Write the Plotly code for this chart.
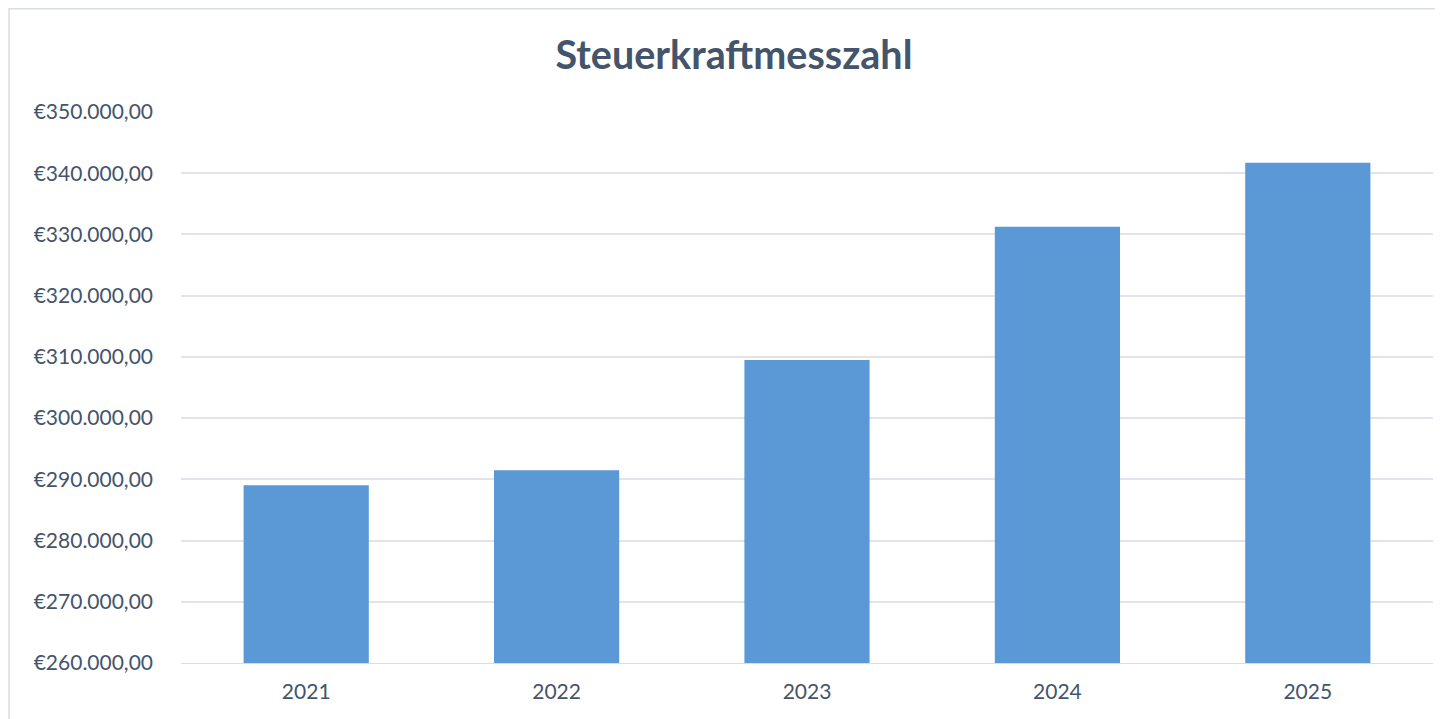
import plotly.graph_objects as go

years = ["2021", "2022", "2023", "2024", "2025"]
values = [289050, 291500, 309500, 331250, 341700]
tick_vals = [260000, 270000, 280000, 290000, 300000, 310000, 320000, 330000, 340000, 350000]


def euro(v):
    s = f"{v:,.2f}"  # 350,000.00
    s = s.replace(",", "X").replace(".", ",").replace("X", ".")
    return "€" + s


tick_text = [euro(v) for v in tick_vals]

TEXT = "#44546A"
FONT = "Lato, Noto Sans, sans-serif"

# page has an 8px body margin; compensate so the plot area lands where the reference has it
W, H = 1435, 711
L, T, R, B = 173, 104, 10, 56
pw = W - L - R
ph = H - T - B

fig = go.Figure()
fig.add_trace(go.Bar(
    x=years, y=values,
    marker=dict(color="#5A99D6", line=dict(width=0)),
    hoverinfo="x+y",
))

fig.update_layout(
    width=W, height=H,
    margin=dict(l=L, r=R, t=T, b=B),
    paper_bgcolor="white", plot_bgcolor="white",
    bargap=0.5,
    showlegend=False,
    font=dict(family=FONT, color=TEXT, size=21),
    title=dict(text="<b>Steuerkraftmesszahl</b>", x=(734 - 8) / W, xanchor="center",
               y=1 - (55 - 8) / H, yanchor="middle", yref="container",
               font=dict(size=39.5, color=TEXT, family=FONT)),
    xaxis=dict(showgrid=False, showline=True, linecolor="#D9DDE3", linewidth=1,
               ticks="", tickfont=dict(size=21, color=TEXT), ticklabelstandoff=10),
    yaxis=dict(range=[260000, 350000], tickvals=tick_vals, ticktext=tick_text,
               showgrid=True, gridcolor="#E1E5EB", gridwidth=2,
               zeroline=False, showline=False, ticks="",
               tickfont=dict(size=21, color=TEXT), ticklabelstandoff=27),
    shapes=[dict(type="rect", xref="paper", yref="paper",
                 x0=(1 - L) / pw, x1=(W + 30 - L) / pw,
                 y0=-(B + 40) / ph, y1=(ph + T - 0.8) / ph,
                 line=dict(color="#D9DEE5", width=1.5), fillcolor="rgba(0,0,0,0)",
                 layer="below")],
)

fig.write_html("out.html")
